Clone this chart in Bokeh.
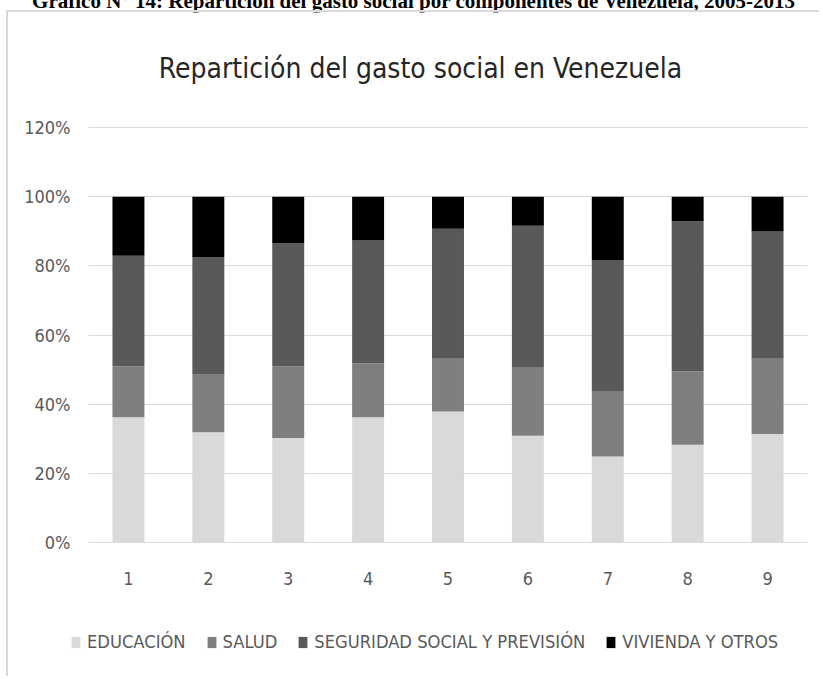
from bokeh.plotting import figure
from bokeh.layouts import column
from bokeh.models import (Range1d, FixedTicker, PrintfTickFormatter, Legend, LegendItem,
                          ColumnDataSource, Div)
from bokeh.core.properties import value
from bokeh.embed import file_html
from bokeh.resources import INLINE

# ---- data (percent shares) ----
categories = ["1", "2", "3", "4", "5", "6", "7", "8", "9"]
educacion = [36.2, 31.9, 30.2, 36.2, 37.9, 30.9, 24.9, 28.3, 31.4]
salud = [14.8, 16.8, 20.8, 15.6, 15.2, 19.6, 18.7, 21.2, 21.7]
seguridad = [31.9, 33.8, 35.5, 35.5, 37.6, 41.1, 38.1, 43.4, 36.8]
vivienda = [17.1, 17.5, 13.5, 12.7, 9.3, 8.4, 18.3, 7.1, 10.1]
series_names = ["EDUCACIÓN", "SALUD", "SEGURIDAD SOCIAL Y PREVISIÓN", "VIVIENDA Y OTROS"]
y_ticks = [0, 20, 40, 60, 80, 100, 120]
title_text = "Repartición del gasto social en Venezuela"
caption_text = "Gráfico N° 14: Repartición del gasto social por componentes de Venezuela, 2005-2013"

colors = ["#d9d9d9", "#7f7f7f", "#595959", "#000000"]
FONT = "DejaVu Sans Condensed, Liberation Sans"
GREY = "#595959"

n = len(categories)
xpos = [i + 0.5 for i in range(n)]
src = ColumnDataSource(dict(x=xpos, edu=educacion, sal=salud, seg=seguridad, viv=vivienda))

# caption above the chart (its upper part lies above the page, as in the source)
cap = Div(text=('<div style="position:relative; top:-11px; left:2px; width:823px; text-align:center; '
                'white-space:nowrap; font: bold 21px \'Liberation Serif\', serif; color:#000;">'
                + caption_text + '</div>'),
          width=823, height=10, margin=0, styles={"overflow": "visible"})

# canvas geometry (px): plot area of the bars spans 80..799 horizontally,
# 0% at 530 and 120% at 115 vertically; the frame covers the whole canvas.
W, H = 813, 666
PX_X = 719 / n
PX_Y = 415 / 120
x_range = Range1d(-80 / PX_X, n + (W - 799) / PX_X)
y_range = Range1d(-(H - 530) / PX_Y, 530 / PX_Y)

p = figure(width=W, height=H, output_backend="svg", toolbar_location=None,
           x_range=x_range, y_range=y_range, margin=0,
           min_border_left=0, min_border_right=0, min_border_top=0, min_border_bottom=0)
p.styles = {"border-left": "2px solid #d9d9d9", "border-top": "2px solid #d9d9d9",
            "margin-left": "6px"}
p.outline_line_color = None
p.background_fill_color = "white"
p.border_fill_color = "white"

rs = p.vbar_stack(["edu", "sal", "seg", "viv"], x="x", width=0.4, source=src,
                  color=colors, line_color=None)

# axes
p.yaxis.ticker = FixedTicker(ticks=y_ticks)
p.yaxis.formatter = PrintfTickFormatter(format="%d%%")
p.xaxis.ticker = FixedTicker(ticks=xpos)
p.xaxis.major_label_overrides = {x: c for x, c in zip(xpos, categories)}
p.xaxis.fixed_location = 0
p.yaxis.fixed_location = 0
for ax in (p.xaxis[0], p.yaxis[0]):
    ax.axis_line_color = None
    ax.major_tick_line_color = None
    ax.minor_tick_line_color = None
    ax.major_tick_out = 0
    ax.major_tick_in = 0
    ax.major_label_text_font = FONT
    ax.major_label_text_font_size = "18px"
    ax.major_label_text_color = GREY
p.yaxis.major_label_standoff = 18
p.xaxis.major_label_standoff = 29

p.xgrid.visible = False
p.ygrid.ticker = FixedTicker(ticks=y_ticks)
p.ygrid.cross_bounds = (0, n)
p.ygrid.grid_line_color = "#d9d9d9"
p.ygrid.grid_line_width = 1

# title
p.text(x=[(420 - 88) / PX_X], y=[(530 - 56) / PX_Y], text=[title_text], text_font=value(FONT),
       text_font_size="28px", text_color="#262626", text_align="center",
       text_baseline="alphabetic")

legend = Legend(items=[LegendItem(label=s, renderers=[r]) for s, r in zip(series_names, rs)],
                orientation="horizontal", location=(62, 26),
                glyph_width=11, glyph_height=14, label_standoff=6, spacing=20,
                padding=0, margin=0, border_line_color=None, background_fill_alpha=0,
                label_text_font=FONT, label_text_font_size="18.2px", label_text_color=GREY)
p.add_layout(legend, "center")

layout = column(cap, p, spacing=0, margin=0)
open("out.html", "w").write(file_html(layout, INLINE))
